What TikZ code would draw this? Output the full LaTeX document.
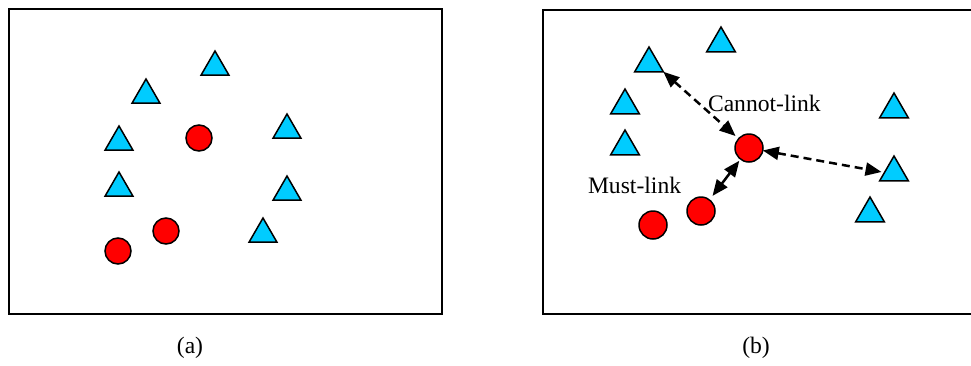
\documentclass[tikz,border=0pt]{standalone}
\usepackage{fontspec}
\setmainfont{Liberation Serif}
\usetikzlibrary{shapes.geometric,arrows.meta}
\definecolor{tri}{HTML}{00CCFF}
\definecolor{dot}{HTML}{FF0000}
\begin{document}
\begin{tikzpicture}[x=1pt,y=-1pt,
  frame/.style={draw=black,line width=2.4pt},
  triL/.style={regular polygon,regular polygon sides=3,draw=black,fill=tri,line width=1.5pt,minimum size=32pt,inner sep=0pt,outer sep=0pt},
  triR/.style={triL,minimum size=33pt},
  dotL/.style={circle,draw=black,fill=dot,line width=1.5pt,minimum size=26pt,inner sep=0pt,outer sep=0pt},
  dotR/.style={dotL,minimum size=28pt},
  lbl/.style={font=\fontsize{23.6}{28}\selectfont,inner sep=0pt,outer sep=0pt},
  link/.style={line width=2.5pt,{Triangle[length=16pt,width=13pt]}-{Triangle[length=16pt,width=13pt]}},
  cannot/.style={link,dash pattern=on 8pt off 5pt}]
\useasboundingbox (0,0) rectangle (971,365);
\clip (0,0) rectangle (971,365);
% panel (a)
\node[frame,draw,minimum width=433pt,minimum height=305pt,inner sep=0pt,anchor=north west] (boxa) at (8,8) {};
\node[triL] (a1) at (215,67) {};
\node[triL] (a2) at (146,95) {};
\node[triL] (a3) at (119,142) {};
\node[triL] (a4) at (119,188) {};
\node[triL] (a5) at (287,130) {};
\node[triL] (a6) at (287,192) {};
\node[triL] (a7) at (263,234) {};
\node[dotL] (ac1) at (199,138) {};
\node[dotL] (ac2) at (166,231) {};
\node[dotL] (ac3) at (118,251) {};
\node[lbl,anchor=base] (capa) at (190,353) {(a)};
% panel (b)
\node[frame,draw,minimum width=433pt,minimum height=304pt,inner sep=0pt,anchor=north west] (boxb) at (542,9) {};
\node[triR] (b1) at (721,43.5) {};
\node[triR] (b2) at (649,63.5) {};
\node[triR] (b3) at (625,105.5) {};
\node[triR] (b4) at (625,146.5) {};
\node[triR] (b5) at (894,109.5) {};
\node[triR] (b6) at (894,172.5) {};
\node[triR] (b7) at (870,213.5) {};
\node[dotR] (bc1) at (749,148) {};
\node[dotR] (bc2) at (701,211) {};
\node[dotR] (bc3) at (653,225) {};
\node[lbl,anchor=base west] (cl) at (708,111) {Cannot-link};
\node[lbl,anchor=base west] (ml) at (588,193) {Must-link};
\node[lbl,anchor=base] (capb) at (756,353) {(b)};
\draw[cannot,shorten >=4pt] (b2.corner 3) -- (bc1);
\draw[cannot,shorten >=3pt] (bc1) -- (b6.west);
\draw[link,shorten <=2pt,shorten >=5pt] (bc1) -- (bc2);
\end{tikzpicture}
\end{document}
